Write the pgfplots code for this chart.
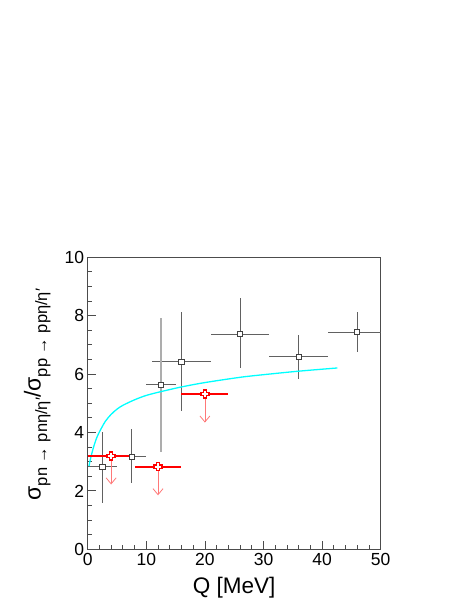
\documentclass[border=0pt]{standalone}
\usepackage{fontspec}
\setmainfont{Liberation Sans}
\usepackage{pgfplots}
\pgfplotsset{compat=1.18}
\usetikzlibrary{arrows.meta}
\definecolor{rootcyan}{RGB}{0,255,255}
\definecolor{rootred}{RGB}{255,0,0}
\definecolor{arrowred}{RGB}{255,120,120}
\newcommand\sub[1]{\raisebox{-0.28em}{\fontsize{16.5}{18}\selectfont #1}}

\pgfdeclareplotmark{ocross}{%
  \pgfpathmoveto{\pgfpoint{-0.38\pgfplotmarksize}{\pgfplotmarksize}}%
  \pgfpathlineto{\pgfpoint{0.38\pgfplotmarksize}{\pgfplotmarksize}}%
  \pgfpathlineto{\pgfpoint{0.38\pgfplotmarksize}{0.38\pgfplotmarksize}}%
  \pgfpathlineto{\pgfpoint{\pgfplotmarksize}{0.38\pgfplotmarksize}}%
  \pgfpathlineto{\pgfpoint{\pgfplotmarksize}{-0.38\pgfplotmarksize}}%
  \pgfpathlineto{\pgfpoint{0.38\pgfplotmarksize}{-0.38\pgfplotmarksize}}%
  \pgfpathlineto{\pgfpoint{0.38\pgfplotmarksize}{-\pgfplotmarksize}}%
  \pgfpathlineto{\pgfpoint{-0.38\pgfplotmarksize}{-\pgfplotmarksize}}%
  \pgfpathlineto{\pgfpoint{-0.38\pgfplotmarksize}{-0.38\pgfplotmarksize}}%
  \pgfpathlineto{\pgfpoint{-\pgfplotmarksize}{-0.38\pgfplotmarksize}}%
  \pgfpathlineto{\pgfpoint{-\pgfplotmarksize}{0.38\pgfplotmarksize}}%
  \pgfpathlineto{\pgfpoint{-0.38\pgfplotmarksize}{0.38\pgfplotmarksize}}%
  \pgfpathclose
  \pgfusepathqfillstroke
}

\pgfplotstableread{
x y u v
4 3.20 0 -0.98
12 2.83 0 -0.98
20 5.32 0 -0.98
}\arrows

\begin{document}
\begin{tikzpicture}
\useasboundingbox (0,0) rectangle (463pt,599pt);
\begin{axis}[
  at={(87.7pt,49.7pt)}, anchor=south west,
  scale only axis, width=293pt, height=292pt,
  xmin=0, xmax=50, ymin=0, ymax=10,
  xtick={0,10,...,50}, ytick={0,2,...,10},
  minor x tick num=4, minor y tick num=3,
  tick align=inside, tick pos=left,
  major tick length=8pt, minor tick length=4pt,
  axis line style={black!70, line width=1pt},
  tick style={black!70, line width=0.8pt},
  ticklabel style={font=\fontsize{17.5}{20}\selectfont},
  /pgf/number format/assume math mode=true,
  xlabel={Q [MeV]},
  xlabel style={font=\fontsize{22.5}{26}\selectfont, at={(axis description cs:0.5,0)}, anchor=base, yshift=-44pt},
  ylabel={σ\sub{pn → pnη/η′}/σ\sub{pp → ppη/η′}},
  ylabel style={font=\fontsize{23}{26}\selectfont, at={(axis description cs:-0.172,0.53)}, anchor=center},
]
% black error bars (eta data)
\addplot[only marks, mark=none, error bars/.cd, x dir=both, x explicit, y dir=both, y explicit,
  error mark=none, error bar style={black!62, line width=0.9pt}]
coordinates {
 (2.5,2.83) += (2.5,1.17) -= (2.5,1.23)
 (7.5,3.17) += (2.5,0.94) -= (2.5,0.91)
 (16,6.43) += (5,1.71) -= (5,1.69)
 (26,7.37) += (5,1.23) -= (5,1.17)
 (36,6.60) += (5,0.73) -= (5,0.76)
 (46,7.44) += (5,0.70) -= (5,0.70)
};
\addplot[only marks, mark=none, error bars/.cd, x dir=both, x explicit,
  error mark=none, error bar style={black!62, line width=0.9pt}]
coordinates { (12.5,5.63) +- (2.5,0) };
\addplot[only marks, mark=none, error bars/.cd, y dir=both, y explicit,
  error mark=none, error bar style={black!32, line width=1.6pt}]
coordinates { (12.5,5.63) += (0,2.29) -= (0,2.31) };
% cyan curve
\addplot[rootcyan, line width=1.3pt, smooth, mark=none] coordinates {
 (0.22,2.85) (0.5,3.12) (1,3.50) (1.5,3.80) (2,4.02) (3,4.38) (4,4.62) (5,4.80)
 (6,4.93) (8,5.12) (10,5.27) (12.5,5.40) (16,5.56) (20,5.71) (26,5.89) (30,5.98)
 (36,6.10) (42.6,6.21)
};
% red upper limits (eta')
\addplot[quiver={u=\thisrow{u}, v=\thisrow{v}}, -{Straight Barb[length=6pt, width=10pt]},
  color=arrowred, line width=0.8pt] table {\arrows};
\addplot[only marks, mark=ocross, mark size=4pt, mark options={draw=rootred, fill=white, line width=1.3pt},
  error bars/.cd, x dir=both, x explicit, error mark=none, error bar style={rootred, line width=1.7pt}]
coordinates {
 (4,3.20) +- (4,0)
 (12,2.83) +- (4,0)
 (20,5.32) +- (4,0)
};
% black markers on top
\addplot[only marks, mark=square*, mark size=2.6pt, mark options={draw=black!75, fill=white, line width=0.8pt}]
coordinates {
 (2.5,2.83) (7.5,3.17) (12.5,5.63) (16,6.43) (26,7.37) (36,6.60) (46,7.44)
};
\end{axis}
\end{tikzpicture}
\end{document}
